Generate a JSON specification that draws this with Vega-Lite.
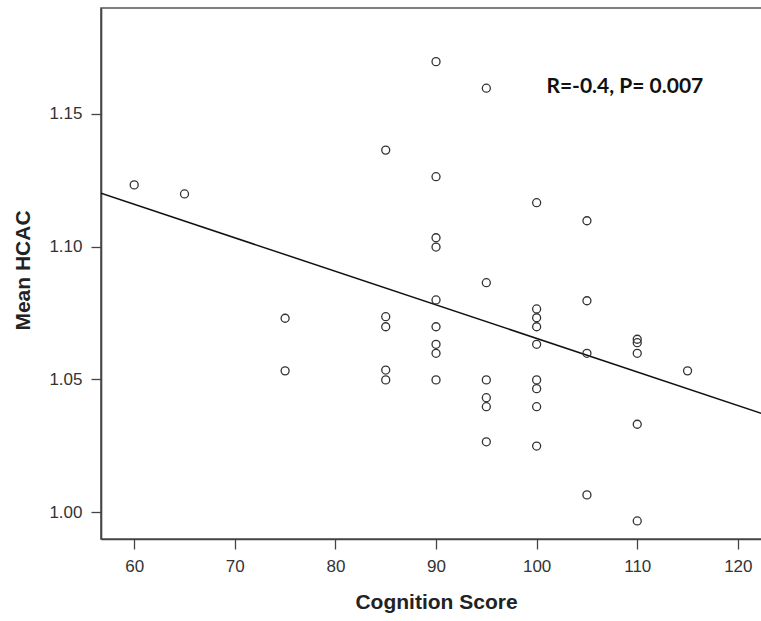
{
  "$schema": "https://vega.github.io/schema/vega-lite/v6.json",
  "autosize": {"type": "none"},
  "padding": {"left": 101, "top": 8, "right": 0, "bottom": 82},
  "width": 661,
  "height": 531,
  "background": "white",
  "config": {
    "view": {"stroke": "#555", "strokeWidth": 1.6},
    "axis": {
      "grid": false,
      "domainColor": "#444",
      "domainWidth": 1.6,
      "tickColor": "#444",
      "tickWidth": 1.3,
      "tickSize": 10,
      "labelFont": "Liberation Sans",
      "labelFontSize": 17,
      "labelColor": "#333",
      "titleFont": "Liberation Sans",
      "titleFontWeight": "bold",
      "titleFontSize": 21,
      "titleColor": "#222"
    }
  },
  "datasets": {
    "pts": [
      {"score": 60, "hcac": 1.1232},
      {"score": 65, "hcac": 1.1198},
      {"score": 75, "hcac": 1.0730},
      {"score": 75, "hcac": 1.0532},
      {"score": 85, "hcac": 1.1363},
      {"score": 85, "hcac": 1.0736},
      {"score": 85, "hcac": 1.0698},
      {"score": 85, "hcac": 1.0535},
      {"score": 85, "hcac": 1.0498},
      {"score": 90, "hcac": 1.1696},
      {"score": 90, "hcac": 1.1263},
      {"score": 90, "hcac": 1.1033},
      {"score": 90, "hcac": 1.0998},
      {"score": 90, "hcac": 1.0799},
      {"score": 90, "hcac": 1.0698},
      {"score": 90, "hcac": 1.0632},
      {"score": 90, "hcac": 1.0598},
      {"score": 90, "hcac": 1.0498},
      {"score": 95, "hcac": 1.1596},
      {"score": 95, "hcac": 1.0864},
      {"score": 95, "hcac": 1.0498},
      {"score": 95, "hcac": 1.0431},
      {"score": 95, "hcac": 1.0397},
      {"score": 95, "hcac": 1.0265},
      {"score": 100, "hcac": 1.1165},
      {"score": 100, "hcac": 1.0765},
      {"score": 100, "hcac": 1.0732},
      {"score": 100, "hcac": 1.0698},
      {"score": 100, "hcac": 1.0632},
      {"score": 100, "hcac": 1.0498},
      {"score": 100, "hcac": 1.0465},
      {"score": 100, "hcac": 1.0397},
      {"score": 100, "hcac": 1.0249},
      {"score": 105, "hcac": 1.1097},
      {"score": 105, "hcac": 1.0796},
      {"score": 105, "hcac": 1.0598},
      {"score": 105, "hcac": 1.0065},
      {"score": 110, "hcac": 1.0651},
      {"score": 110, "hcac": 1.0638},
      {"score": 110, "hcac": 1.0598},
      {"score": 110, "hcac": 1.0331},
      {"score": 110, "hcac": 0.9967},
      {"score": 115, "hcac": 1.0532}
    ],
    "fit": [
      {"score": 56.7, "hcac": 1.1201},
      {"score": 122.4, "hcac": 1.0371}
    ],
    "note": [
      {"score": 100.97, "hcac": 1.1599, "label": "R=-0.4, P= 0.007"}
    ]
  },
  "layer": [
    {
      "data": {"name": "fit"},
      "mark": {"type": "line", "color": "#111", "strokeWidth": 1.5, "clip": true},
      "encoding": {
        "x": {"field": "score", "type": "quantitative"},
        "y": {"field": "hcac", "type": "quantitative"}
      }
    },
    {
      "data": {"name": "pts"},
      "mark": {"type": "point", "shape": "circle", "filled": false, "stroke": "#333", "strokeWidth": 1.3, "size": 64, "opacity": 1},
      "encoding": {
        "x": {
          "field": "score", "type": "quantitative",
          "scale": {"domain": [56.7, 122.4], "nice": false, "zero": false},
          "axis": {"values": [60, 70, 80, 90, 100, 110, 120], "title": "Cognition Score", "labelPadding": 9, "titleX": 335, "titleY": 63, "titleAlign": "center", "titleBaseline": "middle"}
        },
        "y": {
          "field": "hcac", "type": "quantitative",
          "scale": {"domain": [0.9899, 1.1898], "nice": false, "zero": false},
          "axis": {"values": [1.0, 1.05, 1.1, 1.15], "format": ".2f", "title": "Mean HCAC", "labelPadding": 9, "titleX": -78, "titleY": 262, "titleAlign": "center", "titleBaseline": "middle", "titleAngle": -90}
        }
      }
    },
    {
      "data": {"name": "note"},
      "mark": {"type": "text", "align": "left", "baseline": "middle", "font": "Lato", "fontWeight": "bold", "fontSize": 21, "color": "#111"},
      "encoding": {
        "x": {"field": "score", "type": "quantitative"},
        "y": {"field": "hcac", "type": "quantitative"},
        "text": {"field": "label"}
      }
    }
  ]
}
